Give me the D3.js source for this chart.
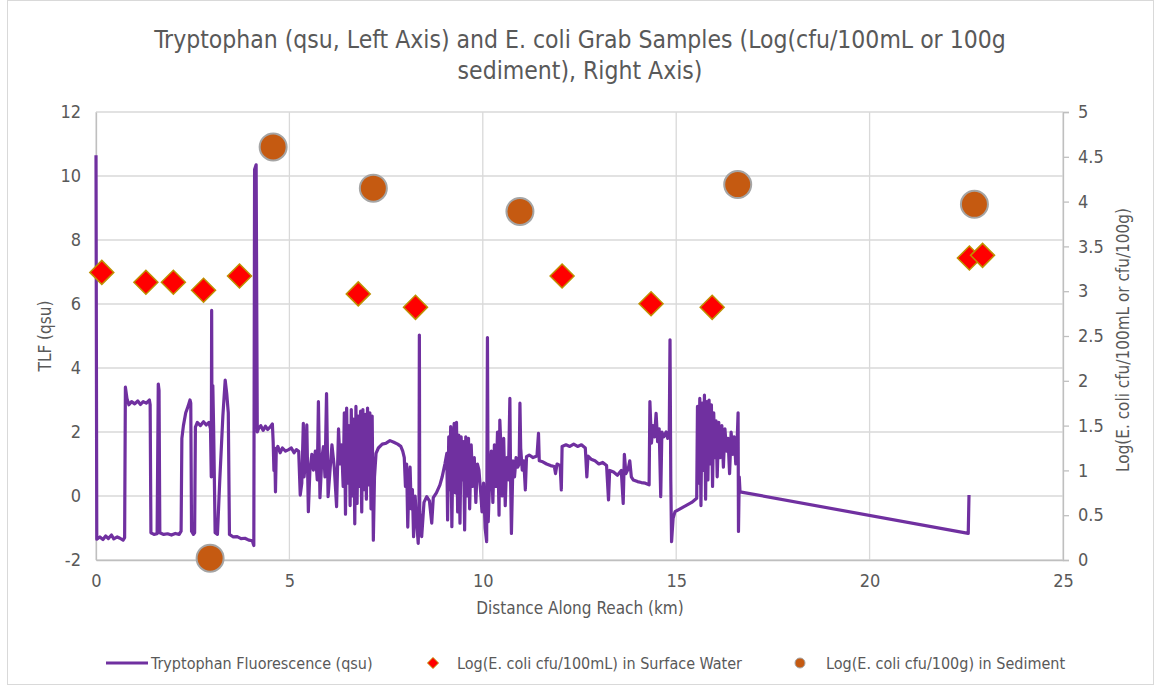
<!DOCTYPE html>
<html>
<head>
<meta charset="utf-8">
<script src="https://cdn.jsdelivr.net/npm/d3@7"></script>
<style>
  body { margin: 0; background: #fff; }
  text { font-family: "Liberation Sans Narrow", "Arial Narrow", "DejaVu Sans Condensed", sans-serif; fill: #595959; }
</style>
</head>
<body>
<div id="chart"></div>
<script>
// Tryptophan fluorescence trace, [km, qsu]
const tlf = [
  [0.00, 10.65], [0.02, -1.35], [0.10, -1.28], [0.18, -1.36], [0.25, -1.25], [0.32, -1.33], [0.40, -1.22],
  [0.46, -1.34], [0.55, -1.28], [0.62, -1.32], [0.70, -1.38], [0.74, -1.30],
  [0.76, 3.40], [0.80, 3.05], [0.85, 2.85], [0.92, 2.95], [1.00, 2.88], [1.08, 2.97], [1.15, 2.86],
  [1.22, 2.95], [1.30, 2.90], [1.38, 3.00], [1.40, 2.85],
  [1.42, -1.15], [1.50, -1.20], [1.58, -1.18], [1.61, 3.50], [1.63, 3.30], [1.65, -1.15],
  [1.75, -1.20], [1.85, -1.18], [1.95, -1.22], [2.05, -1.17], [2.15, -1.20], [2.20, -1.10],
  [2.22, 1.80], [2.26, 2.20], [2.32, 2.60], [2.38, 2.80], [2.43, 3.00], [2.45, 2.90],
  [2.47, -1.10], [2.52, -1.20], [2.55, -1.15],
  [2.57, 2.15], [2.62, 2.30], [2.70, 2.20], [2.78, 2.32], [2.85, 2.22], [2.92, 2.30], [2.96, 2.10],
  [2.98, 0.60], [2.99, 5.80], [3.00, 1.20], [3.02, 3.45], [3.04, 2.20], [3.08, -1.15], [3.14, -1.20],
  [3.20, 0.50], [3.28, 2.50], [3.34, 3.62], [3.38, 3.20], [3.42, 2.60], [3.45, -1.20],
  [3.55, -1.28], [3.65, -1.27], [3.75, -1.33], [3.85, -1.32], [3.95, -1.38], [4.04, -1.40], [4.08, -1.55],
  [4.10, 10.20], [4.14, 10.35], [4.17, 2.00],
  [4.20, 2.10], [4.26, 2.20], [4.32, 2.05], [4.38, 2.18], [4.44, 2.08], [4.50, 2.15], [4.56, 2.25],
  [4.58, 1.70], [4.60, 0.80], [4.62, 1.50], [4.64, 0.13], [4.66, 1.40], [4.70, 1.55], [4.76, 1.35],
  [4.82, 1.50], [4.90, 1.40], [4.98, 1.45], [5.05, 1.50], [5.12, 1.35], [5.18, 1.45], [5.24, 1.40],
  [5.28, 0.03], [5.32, 0.40], [5.36, 2.27], [5.38, 0.60], [5.42, 1.20], [5.45, 2.22], [5.49, -0.49],
  [5.53, 0.80], [5.58, 1.30], [5.62, 0.81], [5.67, 1.40], [5.72, 0.50], [5.75, 2.95], [5.79, -0.05],
  [5.84, 1.20], [5.88, 1.54], [5.92, 0.60], [5.96, 3.20], [6.00, -0.02], [6.05, 0.81], [6.10, 1.60],
  [6.16, 0.90], [6.22, -0.33], [6.27, 2.10], [6.31, 1.00], [6.35, 1.60],
  [6.39, 0.30], [6.42, 2.60], [6.45, -0.57], [6.48, 2.75], [6.51, 0.40], [6.54, 2.20], [6.57, -0.30],
  [6.60, 2.70], [6.63, 0.00], [6.66, 2.40], [6.69, -0.87], [6.72, 2.80], [6.75, -0.23], [6.78, 2.50],
  [6.81, 0.30], [6.84, 2.65], [6.87, -0.50], [6.90, 2.70], [6.93, 0.20], [6.96, 2.55], [6.99, -0.10],
  [7.02, 2.75], [7.05, 0.35], [7.08, 2.60], [7.11, -0.40], [7.14, 2.50], [7.17, -1.38], [7.20, 0.60],
  [7.24, 1.33], [7.30, 1.50], [7.40, 1.62], [7.50, 1.65], [7.60, 1.73], [7.70, 1.68], [7.80, 1.62],
  [7.88, 1.55], [7.93, 1.40],
  [7.97, 1.20], [8.00, 0.30], [8.03, 1.00], [8.06, -0.97], [8.09, 0.50], [8.12, 0.90], [8.15, -0.40],
  [8.18, 0.20], [8.21, -1.27], [8.25, 0.00], [8.29, -0.80], [8.33, -1.48], [8.35, -0.60], [8.36, 5.03],
  [8.37, -0.50], [8.42, -1.27], [8.48, -0.20], [8.55, -0.02], [8.62, -0.15], [8.68, -0.85], [8.72, -0.05],
  [8.80, 0.10], [8.89, 0.34], [8.95, 0.60], [9.02, 1.00], [9.07, 1.33],
  [9.09, -0.75], [9.12, 1.85], [9.14, 0.20], [9.17, 2.17], [9.20, -0.96], [9.23, 1.60], [9.26, 2.27],
  [9.29, 0.10], [9.32, 2.30], [9.35, -0.50], [9.38, 1.90], [9.41, -0.85], [9.44, 1.85], [9.47, 0.50],
  [9.50, 1.70], [9.53, -1.06], [9.56, 1.85], [9.60, 0.00], [9.63, 1.80], [9.66, -0.40], [9.70, 1.60],
  [9.74, 0.30], [9.78, 1.20], [9.82, -0.20], [9.86, 1.00], [9.90, 0.81], [9.94, 0.20], [9.98, -0.50],
  [10.02, 0.40], [10.06, -1.00], [10.10, -1.43], [10.12, 4.95], [10.14, -0.80], [10.18, 0.60],
  [10.22, 1.40], [10.26, -0.20], [10.30, 1.60], [10.34, 0.30], [10.38, 2.00], [10.42, -0.60],
  [10.44, 2.37], [10.47, 1.50], [10.50, 0.00], [10.54, 1.80], [10.58, -0.30], [10.62, 1.20],
  [10.66, 0.50], [10.70, 3.05], [10.72, 0.40], [10.74, -1.17], [10.78, 1.10], [10.82, 0.60],
  [10.86, 1.20], [10.90, 0.90], [10.94, 1.00], [10.96, 2.90], [10.98, 1.49], [11.02, 0.81],
  [11.06, 1.10], [11.10, 0.19], [11.13, 1.23],
  [11.20, 1.28], [11.30, 1.20], [11.40, 1.25], [11.44, 1.96], [11.46, 1.10], [11.55, 1.07],
  [11.65, 1.00], [11.75, 0.95], [11.85, 0.92], [11.88, 0.70], [11.92, 1.00], [12.00, 0.95],
  [12.03, 0.19], [12.05, 1.55], [12.15, 1.60], [12.25, 1.55], [12.35, 1.62], [12.45, 1.55],
  [12.55, 1.60], [12.65, 1.50], [12.69, 0.60], [12.72, 1.25], [12.80, 1.15], [12.90, 1.10],
  [13.00, 1.00], [13.10, 1.05], [13.20, 0.95], [13.25, -0.12], [13.28, 0.80], [13.38, 0.75],
  [13.48, 0.65], [13.58, 0.80], [13.63, -0.23], [13.66, 1.30], [13.70, 0.70], [13.76, 0.85],
  [13.80, 1.10], [13.84, 0.60], [13.89, 0.50], [14.00, 0.45], [14.10, 0.42], [14.20, 0.40], [14.30, 0.35],
  [14.32, 2.95], [14.36, 1.65], [14.40, 2.20], [14.44, 1.85], [14.48, 2.58], [14.52, 1.70],
  [14.56, 2.10], [14.60, -0.02], [14.63, 2.00], [14.68, 1.85], [14.74, 2.00], [14.78, 1.80],
  [14.82, 1.90], [14.84, 4.88], [14.86, 0.50], [14.88, -1.43], [14.92, -0.70], [14.97, -0.49],
  [15.10, -0.40], [15.25, -0.30], [15.40, -0.20], [15.53, -0.07],
  [15.55, 2.80], [15.58, 0.40], [15.61, 3.05], [15.64, -0.30], [15.67, 2.90], [15.70, 0.80],
  [15.73, 3.15], [15.76, -0.10], [15.79, 2.95], [15.82, 0.50], [15.85, 3.00], [15.88, 1.00],
  [15.91, 2.85], [15.94, 0.30], [15.97, 2.60], [16.00, 1.20], [16.03, 2.35], [16.06, 0.60],
  [16.10, 2.30], [16.14, 1.20], [16.18, 2.20], [16.22, 0.90], [16.26, 2.10], [16.30, 1.40],
  [16.34, 1.80], [16.38, 0.70], [16.42, 2.00], [16.46, 1.30], [16.50, 1.85], [16.54, 1.00],
  [16.57, 1.50], [16.60, 2.60], [16.61, -1.11], [16.63, 0.60], [16.65, 0.13],
  [22.55, -1.17], [22.57, 0.03]
];

// E. coli grab samples (log cfu), right axis
const waterKm  = [0.15, 1.29, 2.00, 2.78, 3.71, 6.78, 8.26, 12.05, 14.35, 15.93, 22.58, 22.92];
const waterLog = [3.21, 3.10, 3.10, 3.01, 3.17, 2.97, 2.82, 3.17, 2.86, 2.82, 3.37, 3.40];
const sedimentKm  = [2.95, 4.58, 7.17, 10.96, 16.59, 22.71];
const sedimentLog = [0.02, 4.61, 4.15, 3.89, 4.19, 3.97];

const xTicks = [0, 5, 10, 15, 20, 25];
const leftTicks = [-2, 0, 2, 4, 6, 8, 10, 12];
const rightTicks = [0, 0.5, 1, 1.5, 2, 2.5, 3, 3.5, 4, 4.5, 5];

const titleLines = ["Tryptophan (qsu, Left Axis) and E. coli Grab Samples (Log(cfu/100mL or 100g",
                    "sediment), Right Axis)"];
const legendLabels = ["Tryptophan Fluorescence (qsu)",
                      "Log(E. coli cfu/100mL) in Surface Water",
                      "Log(E. coli cfu/100g) in Sediment"];

const width = 1159, height = 690;
const plot = { left: 96, right: 1063, top: 112, bottom: 560 };

const svg = d3.select("#chart").append("svg")
  .attr("width", width)
  .attr("height", height);

// chart border
svg.append("rect")
  .attr("x", 7.5).attr("y", 0.5)
  .attr("width", 1146).attr("height", 684)
  .attr("fill", "#fff").attr("stroke", "#D9D9D9");

const x = d3.scaleLinear().domain([0, 25]).range([plot.left, plot.right]);
const yL = d3.scaleLinear().domain([-2, 12]).range([plot.bottom, plot.top]);
const yR = d3.scaleLinear().domain([0, 5]).range([plot.bottom, plot.top]);

// gridlines
svg.append("g").selectAll("line.h")
  .data(leftTicks).enter().append("line")
  .attr("x1", plot.left).attr("x2", plot.right)
  .attr("y1", d => yL(d)).attr("y2", d => yL(d))
  .attr("stroke", "#D9D9D9").attr("stroke-width", 1.3);
svg.append("g").selectAll("line.v")
  .data(xTicks).enter().append("line")
  .attr("x1", d => x(d)).attr("x2", d => x(d))
  .attr("y1", plot.top).attr("y2", plot.bottom)
  .attr("stroke", "#D9D9D9").attr("stroke-width", 1.3);

// axes (plain hyphen for negatives, like the original)
const fontMain = 18;
const xAxis = svg.append("g")
  .attr("transform", "translate(0," + plot.bottom + ")")
  .call(d3.axisBottom(x).tickValues(xTicks).tickSize(0).tickPadding(14).tickFormat(d => String(d)));
const leftAxis = svg.append("g")
  .attr("transform", "translate(" + plot.left + ",0)")
  .call(d3.axisLeft(yL).tickValues(leftTicks).tickSize(0).tickPadding(15).tickFormat(d => String(d)));
const rightAxis = svg.append("g")
  .attr("transform", "translate(" + plot.right + ",0)")
  .call(d3.axisRight(yR).tickValues(rightTicks).tickSize(6).tickPadding(9).tickFormat(d => String(d)));

[xAxis, leftAxis, rightAxis].forEach(a => {
  a.select(".domain").attr("stroke", "#BFBFBF").attr("stroke-width", 1.3);
  a.selectAll(".tick line").attr("stroke", "#BFBFBF").attr("stroke-width", 1.3);
  a.selectAll("text").attr("font-size", fontMain).attr("fill", "#595959")
    .attr("font-family", null);
});

// tryptophan line
const line = d3.line().x(d => x(d[0])).y(d => yL(d[1]));
svg.append("path")
  .datum(tlf)
  .attr("d", line)
  .attr("fill", "none")
  .attr("stroke", "#7030A0")
  .attr("stroke-width", 3.2)
  .attr("stroke-linejoin", "round");

// surface water diamonds
const diamond = s => "M0," + (-s) + "L" + s + ",0L0," + s + "L" + (-s) + ",0Z";
svg.append("g").selectAll("path")
  .data(waterKm).enter().append("path")
  .attr("d", diamond(12))
  .attr("transform", (d, i) => "translate(" + x(d) + "," + yR(waterLog[i]) + ")")
  .attr("fill", "#FF0000")
  .attr("stroke", "#BF9000")
  .attr("stroke-width", 1.5);

// sediment circles
svg.append("g").selectAll("circle")
  .data(sedimentKm).enter().append("circle")
  .attr("cx", d => x(d))
  .attr("cy", (d, i) => yR(sedimentLog[i]))
  .attr("r", 13.5)
  .attr("fill", "#C55A11")
  .attr("stroke", "#A5A5A5")
  .attr("stroke-width", 2);

// title
svg.append("g").selectAll("text")
  .data(titleLines).enter().append("text")
  .attr("x", 580)
  .attr("y", (d, i) => 48 + i * 31)
  .attr("text-anchor", "middle")
  .attr("font-size", 24.5)
  .text(d => d);

// axis titles
svg.append("text")
  .attr("x", 580).attr("y", 614)
  .attr("text-anchor", "middle")
  .attr("font-size", 17)
  .text("Distance Along Reach (km)");
svg.append("text")
  .attr("transform", "translate(51,336) rotate(-90)")
  .attr("text-anchor", "middle")
  .attr("font-size", 17)
  .text("TLF (qsu)");
svg.append("text")
  .attr("transform", "translate(1129,340) rotate(-90)")
  .attr("text-anchor", "middle")
  .attr("font-size", 17)
  .text("Log(E. coli cfu/100mL or cfu/100g)");

// legend
const legY = 663;
const leg = svg.append("g");
leg.append("line")
  .attr("x1", 106).attr("x2", 148).attr("y1", legY).attr("y2", legY)
  .attr("stroke", "#7030A0").attr("stroke-width", 3);
leg.append("path")
  .attr("d", diamond(5.5))
  .attr("transform", "translate(433," + legY + ")")
  .attr("fill", "#FF0000").attr("stroke", "#BF9000").attr("stroke-width", 1);
leg.append("circle")
  .attr("cx", 800).attr("cy", legY).attr("r", 5)
  .attr("fill", "#C55A11").attr("stroke", "#A5A5A5").attr("stroke-width", 1);
leg.selectAll("text")
  .data(legendLabels).enter().append("text")
  .attr("x", (d, i) => [151, 457, 826][i])
  .attr("y", legY + 6)
  .attr("font-size", 16)
  .text(d => d);
</script>
</body>
</html>
